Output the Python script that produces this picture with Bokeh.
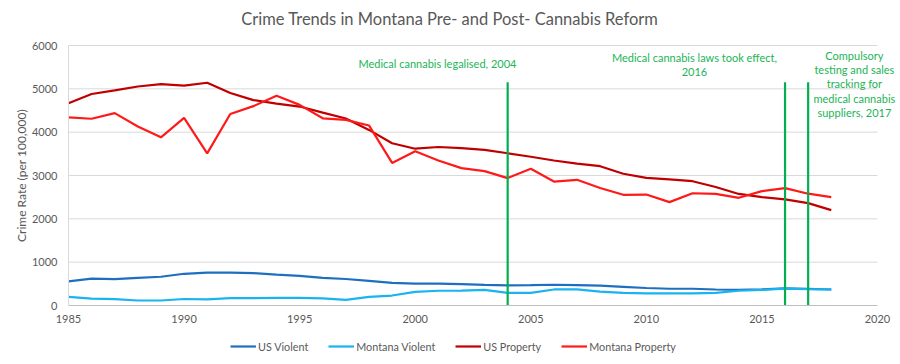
from bokeh.plotting import figure
from bokeh.models import Legend, LegendItem, Label, Range1d, FixedTicker
from bokeh.embed import file_html
from bokeh.resources import INLINE

years = list(range(1985, 2019))
us_violent = [556, 620, 610, 637, 663, 732, 758, 758, 747, 714, 685, 637, 611, 568, 523, 507, 505,
              494, 476, 463, 469, 479, 472, 458, 432, 404, 387, 387, 369, 362, 373, 395, 383, 369]
mt_violent = [200, 160, 145, 115, 115, 150, 140, 170, 170, 175, 175, 165, 130, 200, 230, 315, 340,
              345, 360, 290, 290, 370, 370, 320, 290, 280, 280, 280, 290, 340, 360, 390, 375, 370]
us_property = [4666, 4881, 4963, 5054, 5107, 5073, 5140, 4904, 4740, 4660, 4591, 4451, 4316, 4052,
               3744, 3618, 3658, 3631, 3591, 3514, 3432, 3346, 3276, 3215, 3041, 2946, 2909, 2868,
               2734, 2574, 2500, 2451, 2362, 2200]
mt_property = [4340, 4310, 4440, 4130, 3880, 4330, 3510, 4420, 4600, 4840, 4630, 4320, 4285, 4155,
               3290, 3560, 3345, 3170, 3100, 2940, 3155, 2860, 2900, 2710, 2555, 2560, 2385, 2590,
               2575, 2485, 2640, 2710, 2580, 2500]
event_years = [2004, 2016, 2017]
event_top = 5150
x_ticks = [1985, 1990, 1995, 2000, 2005, 2010, 2015, 2020]
y_ticks = [0, 1000, 2000, 3000, 4000, 5000, 6000]

title_text = "Crime Trends in Montana Pre- and Post- Cannabis Reform"
ann1 = ["Medical cannabis legalised, 2004"]
ann2 = ["Medical cannabis laws took effect,", "2016"]
ann3 = ["Compulsory", "testing and sales", "tracking for", "medical cannabis", "suppliers, 2017"]

FONT = "Lato"
GRAY = "#595959"
GREEN = "#00B050"

# frame spans the whole 900x364 canvas; data 1985..2020 -> 68..877 px, 0..6000 -> 305..45 px
PX_X = 809 / 35
PX_Y = 260 / 6000
X_START = 1985 - 68 / PX_X
X_END = 1985 + 832 / PX_X
Y_START = -59 / PX_Y
Y_END = 6000 + 45 / PX_Y

p = figure(width=900, height=364, output_backend="svg", toolbar_location=None,
           x_range=Range1d(X_START, X_END), y_range=Range1d(Y_START, Y_END),
           min_border_left=0, min_border_right=0, min_border_top=0, min_border_bottom=0)
p.outline_line_color = None
p.background_fill_color = "white"
p.border_fill_color = "white"

p.xaxis.ticker = FixedTicker(ticks=x_ticks)
p.yaxis.ticker = FixedTicker(ticks=y_ticks)
p.xaxis.bounds = (x_ticks[0], x_ticks[-1])
p.yaxis.bounds = (y_ticks[0], y_ticks[-1])
p.xaxis.fixed_location = y_ticks[0]
p.yaxis.fixed_location = x_ticks[0]
for ax in (p.xaxis, p.yaxis):
    ax.major_tick_line_color = None
    ax.minor_tick_line_color = None
    ax.major_tick_out = 0
    ax.major_tick_in = 0
    ax.minor_tick_out = 0
    ax.minor_tick_in = 0
    ax.major_label_text_color = GRAY
    ax.major_label_text_font = FONT
    ax.major_label_text_font_size = "11px"
    ax.major_label_standoff = 9
p.xaxis.axis_line_color = "#BFBFBF"
p.yaxis.axis_line_color = "#D9D9D9"
p.yaxis.major_label_standoff = 11
p.yaxis.axis_label = "Crime Rate (per 100,000)"
p.yaxis.axis_label_text_font = FONT
p.yaxis.axis_label_text_font_style = "normal"
p.yaxis.axis_label_text_font_size = "12px"
p.yaxis.axis_label_text_color = GRAY
p.yaxis.axis_label_standoff = 0
p.xgrid.grid_line_color = None
p.ygrid.grid_line_color = None

# horizontal gridlines limited to the axis extent
p.segment(x0=[x_ticks[0]] * (len(y_ticks) - 1), y0=y_ticks[1:],
          x1=[x_ticks[-1]] * (len(y_ticks) - 1), y1=y_ticks[1:],
          line_color="#D9D9D9", line_width=1)

r1 = p.line(years, us_violent, line_color="#1F6FC0", line_width=2.2)
r2 = p.line(years, mt_violent, line_color="#19B4F0", line_width=2.2)
r3 = p.line(years, us_property, line_color="#C00000", line_width=2.2)
r4 = p.line(years, mt_property, line_color="#FF1A1A", line_width=2.2)

p.segment(x0=event_years, y0=[0] * len(event_years), x1=event_years,
          y1=[event_top] * len(event_years), line_color=GREEN, line_width=2.2)

def add_text(x, y, txt, size="11px", color="#22B456"):
    p.add_layout(Label(x=x, y=y, text=txt, text_align="center", text_baseline="middle",
                       text_font=FONT, text_font_size=size, text_color=color))

for t, y in zip(ann1, [5585]):
    add_text(2000.96, y, t)
for t, y in zip(ann2, [5723, 5377]):
    add_text(2012.08, y, t)
for t, y in zip(ann3, [5769, 5446, 5123, 4777, 4454]):
    add_text(2019.0, y, t)

add_text(2001.50, 6623, title_text, size="16.5px", color=GRAY)

legend = Legend(items=[LegendItem(label="US Violent", renderers=[r1]),
                       LegendItem(label="Montana Violent", renderers=[r2]),
                       LegendItem(label="US Property", renderers=[r3]),
                       LegendItem(label="Montana Property", renderers=[r4])],
                orientation="horizontal", location=(230, 11),
                label_text_font=FONT, label_text_font_size="10.8px", label_text_color=GRAY,
                glyph_width=26, glyph_height=14, label_standoff=2, spacing=20,
                padding=0, margin=0, border_line_color=None, background_fill_alpha=0)
p.add_layout(legend, "center")

open("out.html", "w").write(file_html(p, INLINE))
